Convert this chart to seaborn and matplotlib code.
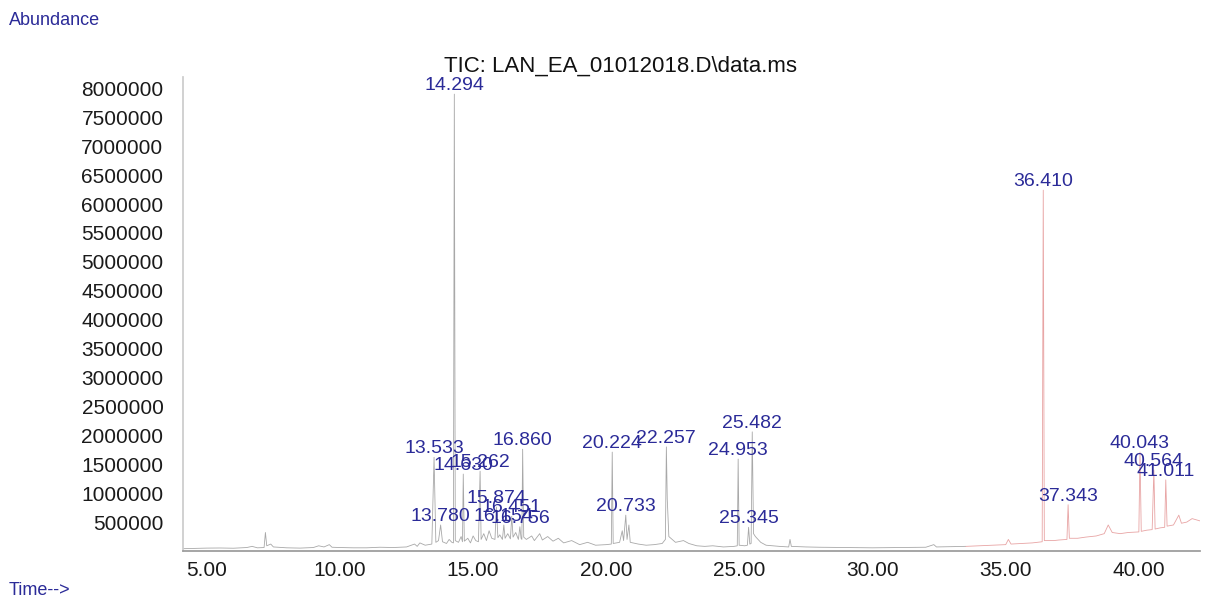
import matplotlib
matplotlib.use("Agg")
import matplotlib.pyplot as plt
import seaborn as sns

# ------------------------------
# TIC trace (time in min, abundance)
# ------------------------------

time_early = [4.10, 4.6, 5.0, 5.5, 6.0, 6.5, 6.7, 6.9, 7.15, 7.20, 7.25, 7.4, 7.5, 8.0, 8.5,
              9.0, 9.2, 9.4, 9.6, 9.7, 10.0, 10.5, 11.0, 11.5, 12.0, 12.5, 12.8, 12.9, 13.0,
              13.2, 13.45, 13.533, 13.6, 13.7, 13.78, 13.85, 14.0, 14.1, 14.2, 14.26, 14.294,
              14.33, 14.45, 14.55, 14.60, 14.630, 14.67, 14.8, 14.9, 15.0, 15.1, 15.2, 15.262,
              15.3, 15.4, 15.5, 15.6, 15.7, 15.82, 15.874, 15.93, 16.0, 16.1, 16.154, 16.2,
              16.3, 16.4, 16.451, 16.5, 16.6, 16.7, 16.756, 16.8, 16.83, 16.860, 16.9, 17.0,
              17.2, 17.3, 17.5, 17.6, 17.8, 18.0, 18.2, 18.4, 18.7, 19.0, 19.3, 19.6, 20.0,
              20.19, 20.224, 20.26, 20.5, 20.6, 20.65, 20.733, 20.78, 20.85, 20.9, 21.2, 21.5,
              21.8, 22.1, 22.22, 22.257, 22.29, 22.35, 22.6, 22.9, 23.1, 23.4, 23.7, 24.0, 24.4,
              24.8, 24.92, 24.953, 24.99, 25.2, 25.3, 25.345, 25.39, 25.44, 25.482, 25.53,
              25.6, 25.8, 26.0, 26.5, 26.85, 26.9, 26.95, 27.5, 28.0, 29.0, 30.0, 31.0, 32.0,
              32.3, 32.4, 33.0, 33.5]
abund_early = [40000, 45000, 50000, 52000, 48000, 60000, 80000, 55000, 60000, 320000, 90000,
               120000, 70000, 55000, 50000, 60000, 90000, 70000, 110000, 65000, 60000, 55000,
               55000, 65000, 60000, 70000, 120000, 80000, 140000, 100000, 120000, 1620000,
               150000, 180000, 450000, 160000, 130000, 200000, 150000, 140000, 7900000,
               180000, 150000, 250000, 160000, 1330000, 170000, 220000, 140000, 260000,
               180000, 160000, 1380000, 200000, 300000, 180000, 350000, 220000, 200000,
               760000, 230000, 280000, 200000, 450000, 220000, 300000, 210000, 600000,
               240000, 320000, 200000, 420000, 220000, 200000, 1760000, 240000, 200000,
               260000, 180000, 300000, 190000, 250000, 170000, 220000, 140000, 180000,
               110000, 150000, 100000, 110000, 120000, 1710000, 130000, 150000, 350000,
               180000, 620000, 200000, 450000, 150000, 120000, 100000, 110000, 130000,
               200000, 1800000, 900000, 250000, 150000, 180000, 130000, 90000, 80000,
               90000, 70000, 80000, 90000, 1590000, 100000, 90000, 100000, 410000, 120000,
               130000, 2060000, 300000, 250000, 150000, 100000, 80000, 70000, 200000, 80000,
               70000, 65000, 60000, 55000, 60000, 65000, 110000, 70000, 75000, 80000]

time_late = [33.5, 34.0, 34.5, 35.0, 35.1, 35.2, 35.6, 36.0, 36.37, 36.410, 36.45, 36.8, 37.0,
             37.3, 37.343, 37.39, 37.7, 38.0, 38.4, 38.7, 38.85, 39.0, 39.3, 39.6, 40.0,
             40.043, 40.09, 40.3, 40.5, 40.564, 40.61, 40.8, 40.97, 41.011, 41.06, 41.3,
             41.5, 41.6, 41.8, 42.0, 42.3]
abund_late = [80000, 90000, 100000, 110000, 200000, 120000, 130000, 140000, 160000, 6240000,
              180000, 180000, 190000, 200000, 800000, 220000, 220000, 240000, 260000, 300000,
              450000, 320000, 300000, 320000, 330000, 1710000, 340000, 360000, 370000,
              1400000, 380000, 400000, 410000, 1230000, 430000, 450000, 620000, 480000,
              500000, 560000, 520000]

# labelled peaks
peak_rt = [13.533, 13.780, 14.294, 14.630, 15.262, 15.874, 16.154, 16.451, 16.756, 16.860,
           20.224, 20.733, 22.257, 24.953, 25.345, 25.482, 36.410, 37.343, 40.043, 40.564,
           41.011]
peak_height = [1620000, 450000, 7900000, 1330000, 1380000, 760000, 450000, 600000, 420000,
               1760000, 1710000, 620000, 1800000, 1590000, 410000, 2060000, 6240000, 800000,
               1710000, 1400000, 1230000]

x_ticks = [5, 10, 15, 20, 25, 30, 35, 40]
y_ticks = [500000 * k for k in range(1, 17)]

# ------------------------------
# Plot
# ------------------------------

sns.set_theme(style="white")
plt.rcParams["font.family"] = ["Liberation Sans", "DejaVu Sans"]

blue = "#2b2b98"

fig = plt.figure(figsize=(12.11, 5.98), dpi=100)
ax = fig.add_axes([0.151, 0.0786, 0.840, 0.792])

sns.lineplot(x=time_early, y=abund_early, ax=ax, color="#a8a8a8", lw=0.6,
             estimator=None, sort=False)
sns.lineplot(x=time_late, y=abund_late, ax=ax, color="#e8a4a4", lw=0.6,
             estimator=None, sort=False)

for rt, h in zip(peak_rt, peak_height):
    ax.text(rt, h, f"{rt:.3f}", color=blue, fontsize=14, ha="center", va="bottom")

ax.set_xlim(4.1, 42.3)
ax.set_ylim(0, 8190000)
ax.set_xticks(x_ticks)
ax.set_xticklabels([f"{t:.2f}" for t in x_ticks])
ax.set_yticks(y_ticks)
ax.set_yticklabels([str(v) for v in y_ticks])
ax.tick_params(axis="both", labelsize=15, colors="#888888", labelcolor="#1a1a1a",
               length=4, width=0.8)
ax.tick_params(axis="x", direction="out", pad=3)
ax.tick_params(axis="y", direction="out", pad=10)

for side in ["top", "right"]:
    ax.spines[side].set_visible(False)
ax.spines["left"].set_color("#cccccc")
ax.spines["bottom"].set_color("#9a9a9a")
ax.set_xlabel("")
ax.set_ylabel("")

fig.text(0.512, 0.872, r"TIC: LAN_EA_01012018.D\data.ms", fontsize=16, color="#111111",
         ha="center", va="bottom")
fig.text(0.007, 0.965, "Abundance", fontsize=13, color=blue, ha="left", va="center")
fig.text(0.007, 0.013, "Time-->", fontsize=13, color=blue, ha="left", va="center")

fig.savefig("out.png", dpi=100)
